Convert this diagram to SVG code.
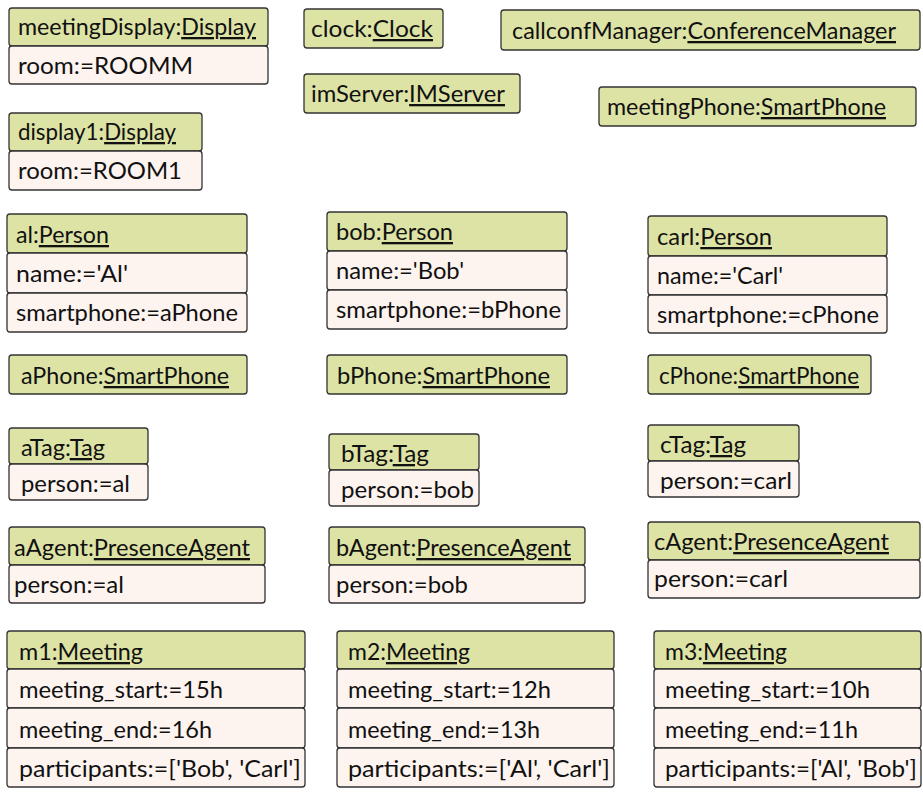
<svg xmlns="http://www.w3.org/2000/svg" width="923" height="792" viewBox="0 0 923 792">
<style>
.h{fill:#dde3a5;stroke:#333;stroke-width:1.3}
.a{fill:#fdf4f0;stroke:#333;stroke-width:1.3}
text{font-family:Lato,"Open Sans","DejaVu Sans",sans-serif;font-size:23px;fill:#111}
.u{text-decoration:underline}
</style>
<rect width="923" height="792" fill="#fff"/>
<g id="connectors"/>
<g id="meetingDisplay">
<rect class="h" x="9" y="8" width="259" height="38" rx="3"/>
<rect class="a" x="9" y="46" width="259" height="38" rx="3"/>
<text x="18" y="35" textLength="238" lengthAdjust="spacingAndGlyphs">meetingDisplay:<tspan class="u">Display</tspan></text>
<text x="18" y="74" textLength="175" lengthAdjust="spacingAndGlyphs">room:=ROOMM</text>
</g>
<g id="display1">
<rect class="h" x="9" y="113" width="193" height="38" rx="3"/>
<rect class="a" x="9" y="151" width="193" height="39" rx="3"/>
<text x="18" y="140" textLength="158" lengthAdjust="spacingAndGlyphs">display1:<tspan class="u">Display</tspan></text>
<text x="18" y="179" textLength="164" lengthAdjust="spacingAndGlyphs">room:=ROOM1</text>
</g>
<g id="clock">
<rect class="h" x="304" y="9" width="139" height="39" rx="3"/>
<text x="311" y="37" textLength="122" lengthAdjust="spacingAndGlyphs">clock:<tspan class="u">Clock</tspan></text>
</g>
<g id="callconfManager">
<rect class="h" x="501" y="10" width="419" height="40" rx="3"/>
<text x="512" y="39" textLength="384" lengthAdjust="spacingAndGlyphs">callconfManager:<tspan class="u">ConferenceManager</tspan></text>
</g>
<g id="imServer">
<rect class="h" x="304" y="74" width="216" height="39" rx="3"/>
<text x="311" y="102" textLength="194" lengthAdjust="spacingAndGlyphs">imServer:<tspan class="u">IMServer</tspan></text>
</g>
<g id="meetingPhone">
<rect class="h" x="599" y="87" width="317" height="39" rx="3"/>
<text x="607" y="115" textLength="279" lengthAdjust="spacingAndGlyphs">meetingPhone:<tspan class="u">SmartPhone</tspan></text>
</g>
<g id="al">
<rect class="h" x="7" y="214" width="240" height="39" rx="3"/>
<rect class="a" x="7" y="253" width="240" height="40" rx="3"/>
<rect class="a" x="7" y="293" width="240" height="39" rx="3"/>
<text x="16" y="243" textLength="93" lengthAdjust="spacingAndGlyphs">al:<tspan class="u">Person</tspan></text>
<text x="16" y="282" textLength="112" lengthAdjust="spacingAndGlyphs">name:='Al'</text>
<text x="16" y="321" textLength="222" lengthAdjust="spacingAndGlyphs">smartphone:=aPhone</text>
</g>
<g id="bob">
<rect class="h" x="327" y="212" width="240" height="39" rx="3"/>
<rect class="a" x="327" y="251" width="240" height="39" rx="3"/>
<rect class="a" x="327" y="290" width="240" height="39" rx="3"/>
<text x="336" y="240" textLength="117" lengthAdjust="spacingAndGlyphs">bob:<tspan class="u">Person</tspan></text>
<text x="336" y="279" textLength="128" lengthAdjust="spacingAndGlyphs">name:='Bob'</text>
<text x="336" y="318" textLength="225" lengthAdjust="spacingAndGlyphs">smartphone:=bPhone</text>
</g>
<g id="carl">
<rect class="h" x="648" y="216" width="239" height="40" rx="3"/>
<rect class="a" x="648" y="256" width="239" height="39" rx="3"/>
<rect class="a" x="648" y="295" width="239" height="38" rx="3"/>
<text x="657" y="245" textLength="115" lengthAdjust="spacingAndGlyphs">carl:<tspan class="u">Person</tspan></text>
<text x="657" y="284" textLength="126" lengthAdjust="spacingAndGlyphs">name:='Carl'</text>
<text x="657" y="323" textLength="222" lengthAdjust="spacingAndGlyphs">smartphone:=cPhone</text>
</g>
<g id="aPhone">
<rect class="h" x="9" y="355" width="238" height="39" rx="3"/>
<text x="21" y="384" textLength="208" lengthAdjust="spacingAndGlyphs">aPhone:<tspan class="u">SmartPhone</tspan></text>
</g>
<g id="bPhone">
<rect class="h" x="327" y="355" width="240" height="39" rx="3"/>
<text x="337" y="384" textLength="213" lengthAdjust="spacingAndGlyphs">bPhone:<tspan class="u">SmartPhone</tspan></text>
</g>
<g id="cPhone">
<rect class="h" x="648" y="355" width="223" height="39" rx="3"/>
<text x="659" y="384" textLength="200" lengthAdjust="spacingAndGlyphs">cPhone:<tspan class="u">SmartPhone</tspan></text>
</g>
<g id="aTag">
<rect class="h" x="9" y="428" width="139" height="36" rx="3"/>
<rect class="a" x="9" y="464" width="139" height="36" rx="3"/>
<text x="21" y="456" textLength="84" lengthAdjust="spacingAndGlyphs">aTag:<tspan class="u">Tag</tspan></text>
<text x="21" y="492" textLength="109" lengthAdjust="spacingAndGlyphs">person:=al</text>
</g>
<g id="bTag">
<rect class="h" x="329" y="434" width="150" height="36" rx="3"/>
<rect class="a" x="329" y="470" width="150" height="36" rx="3"/>
<text x="341" y="462" textLength="88" lengthAdjust="spacingAndGlyphs">bTag:<tspan class="u">Tag</tspan></text>
<text x="341" y="498" textLength="133" lengthAdjust="spacingAndGlyphs">person:=bob</text>
</g>
<g id="cTag">
<rect class="h" x="648" y="425" width="151" height="36" rx="3"/>
<rect class="a" x="648" y="461" width="151" height="36" rx="3"/>
<text x="660" y="453" textLength="86" lengthAdjust="spacingAndGlyphs">cTag:<tspan class="u">Tag</tspan></text>
<text x="660" y="489" textLength="132" lengthAdjust="spacingAndGlyphs">person:=carl</text>
</g>
<g id="aAgent">
<rect class="h" x="9" y="527" width="256" height="38" rx="3"/>
<rect class="a" x="9" y="565" width="256" height="38" rx="3"/>
<text x="14" y="556" textLength="236" lengthAdjust="spacingAndGlyphs">aAgent:<tspan class="u">PresenceAgent</tspan></text>
<text x="14" y="593" textLength="110" lengthAdjust="spacingAndGlyphs">person:=al</text>
</g>
<g id="bAgent">
<rect class="h" x="329" y="527" width="256" height="38" rx="3"/>
<rect class="a" x="329" y="565" width="256" height="38" rx="3"/>
<text x="336" y="556" textLength="235" lengthAdjust="spacingAndGlyphs">bAgent:<tspan class="u">PresenceAgent</tspan></text>
<text x="336" y="593" textLength="132" lengthAdjust="spacingAndGlyphs">person:=bob</text>
</g>
<g id="cAgent">
<rect class="h" x="648" y="522" width="272" height="38" rx="3"/>
<rect class="a" x="648" y="560" width="272" height="38" rx="3"/>
<text x="654" y="550" textLength="235" lengthAdjust="spacingAndGlyphs">cAgent:<tspan class="u">PresenceAgent</tspan></text>
<text x="654" y="587" textLength="134" lengthAdjust="spacingAndGlyphs">person:=carl</text>
</g>
<g id="m1">
<rect class="h" x="7" y="631" width="298" height="38" rx="3"/>
<rect class="a" x="7" y="669" width="298" height="39" rx="3"/>
<rect class="a" x="7" y="708" width="298" height="40" rx="3"/>
<rect class="a" x="7" y="748" width="298" height="39" rx="3"/>
<text x="19" y="660" textLength="124" lengthAdjust="spacingAndGlyphs">m1:<tspan class="u">Meeting</tspan></text>
<text x="19" y="698" textLength="204" lengthAdjust="spacingAndGlyphs">meeting_start:=15h</text>
<text x="19" y="738" textLength="193" lengthAdjust="spacingAndGlyphs">meeting_end:=16h</text>
<text x="19" y="777" textLength="282" lengthAdjust="spacingAndGlyphs">participants:=['Bob', 'Carl']</text>
</g>
<g id="m2">
<rect class="h" x="337" y="631" width="277" height="38" rx="3"/>
<rect class="a" x="337" y="669" width="277" height="39" rx="3"/>
<rect class="a" x="337" y="708" width="277" height="40" rx="3"/>
<rect class="a" x="337" y="748" width="277" height="39" rx="3"/>
<text x="348" y="660" textLength="122" lengthAdjust="spacingAndGlyphs">m2:<tspan class="u">Meeting</tspan></text>
<text x="348" y="698" textLength="203" lengthAdjust="spacingAndGlyphs">meeting_start:=12h</text>
<text x="348" y="738" textLength="192" lengthAdjust="spacingAndGlyphs">meeting_end:=13h</text>
<text x="348" y="777" textLength="262" lengthAdjust="spacingAndGlyphs">participants:=['Al', 'Carl']</text>
</g>
<g id="m3">
<rect class="h" x="654" y="631" width="267" height="38" rx="3"/>
<rect class="a" x="654" y="669" width="267" height="39" rx="3"/>
<rect class="a" x="654" y="708" width="267" height="40" rx="3"/>
<rect class="a" x="654" y="748" width="267" height="39" rx="3"/>
<text x="665" y="660" textLength="122" lengthAdjust="spacingAndGlyphs">m3:<tspan class="u">Meeting</tspan></text>
<text x="665" y="698" textLength="205" lengthAdjust="spacingAndGlyphs">meeting_start:=10h</text>
<text x="665" y="738" textLength="193" lengthAdjust="spacingAndGlyphs">meeting_end:=11h</text>
<text x="665" y="777" textLength="252" lengthAdjust="spacingAndGlyphs">participants:=['Al', 'Bob']</text>
</g>
</svg>
